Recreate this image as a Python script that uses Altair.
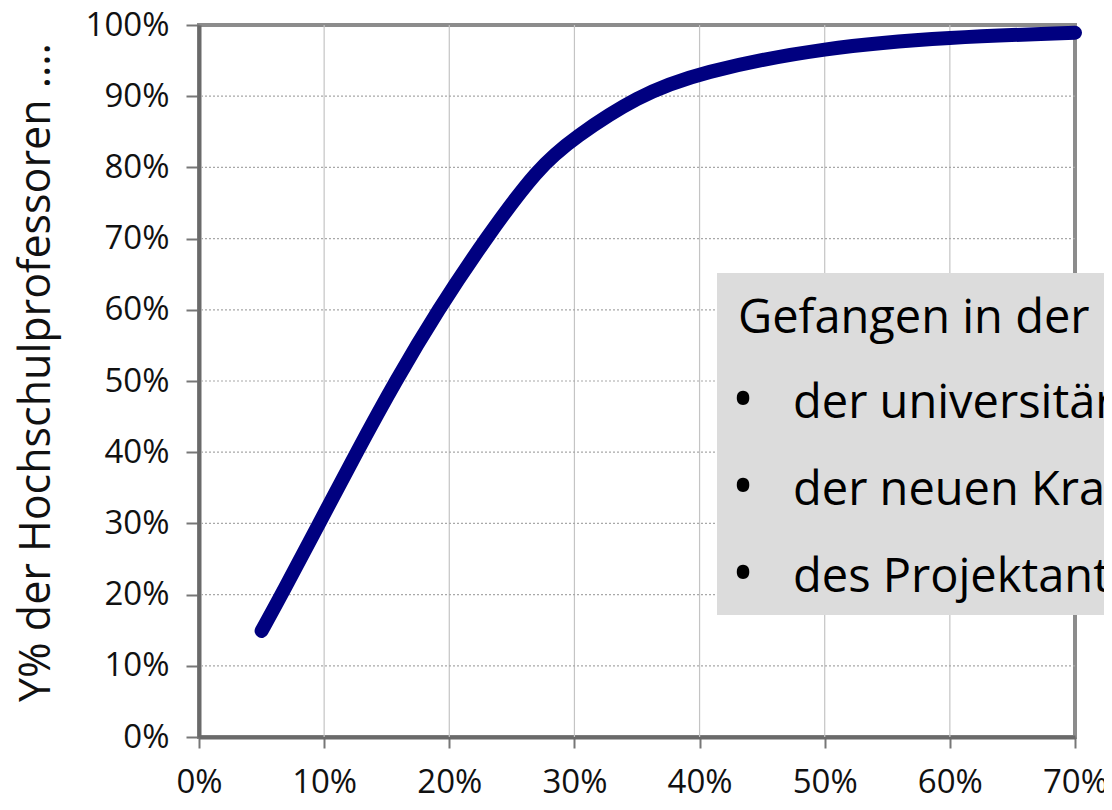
import altair as alt
import pandas as pd

# curve values (percent)
x_share = [5, 6.6, 9.6, 12.6, 15.7, 19.1, 22.9, 27.1, 30, 35, 40, 50, 60, 70]
y_share = [14.9, 20, 30, 40, 50, 60, 70, 80, 84.2, 90, 93.4, 96.9, 98.3, 98.9]

x_ticks = [0, 10, 20, 30, 40, 50, 60, 70]
y_ticks = [0, 10, 20, 30, 40, 50, 60, 70, 80, 90, 100]

y_title = "Y% der Hochschulprofessoren ...."
box_heading = "Gefangen in der "
box_bullets = ["der universitären Selbstverwaltung", "der neuen Kran", "des Projektantrags"]

FONT = "Open Sans"
W, H = 876, 712

df = pd.DataFrame({"x": x_share, "y": y_share})

xscale = alt.Scale(domain=[0, 70], nice=False)
yscale = alt.Scale(domain=[0, 100], nice=False)

x_axis = alt.Axis(values=x_ticks, labelExpr="datum.value + '%'", title=None,
                  grid=False, tickSize=11, labelPadding=44, labelFontSize=33,
                  labelBaseline="alphabetic",
                  labelFont=FONT, labelColor="#111", tickColor="#777",
                  tickWidth=2, domainColor="#6a6a6a", domainWidth=4,
                  labelFlush=False, labelOverlap=False)
y_axis = alt.Axis(values=y_ticks, labelExpr="datum.value + '%'", title=y_title,
                  grid=False, tickSize=13, labelPadding=17, labelFontSize=33,
                  labelFont=FONT, labelColor="#111", tickColor="#777",
                  tickWidth=2, domainColor="#6a6a6a", domainWidth=4,
                  labelOverlap=False,
                  titleFont=FONT, titleFontSize=43, titleFontWeight="normal",
                  titleColor="#111", titlePadding=27, titleY=347)

# vertical solid grid
vgrid = alt.Chart(pd.DataFrame({"x": x_ticks[1:-1]})).mark_rule(
    color="#c4c4c4", strokeWidth=1.2
).encode(x=alt.X("x:Q", scale=xscale, axis=x_axis))

# horizontal dotted grid
hgrid = alt.Chart(pd.DataFrame({"y": y_ticks[1:-1]})).mark_rule(
    color="#a8a8a8", strokeWidth=1.2, strokeDash=[2, 2]
).encode(y=alt.Y("y:Q", scale=yscale, axis=y_axis))

line = alt.Chart(df).mark_line(
    color="#000080", strokeWidth=14, strokeCap="round", strokeJoin="round",
    interpolate="basis"
).encode(
    x=alt.X("x:Q", scale=xscale, axis=x_axis),
    y=alt.Y("y:Q", scale=yscale, axis=y_axis),
)

box = alt.Chart(pd.DataFrame({"k": [0]})).mark_rect(color="#dcdcdc").encode(
    x=alt.value(518), x2=alt.value(930), y=alt.value(248), y2=alt.value(590)
)

heading = alt.Chart(pd.DataFrame({"t": [box_heading]})).mark_text(
    align="left", baseline="alphabetic", font=FONT, fontSize=47, color="#000"
).encode(x=alt.value(539), y=alt.value(308), text="t:N")

bullet_layers = []
for i, txt in enumerate(box_bullets):
    yb = 393 + i * 87
    src = pd.DataFrame({"t": [txt]})
    bullet_layers.append(
        alt.Chart(src).mark_text(
            align="center", baseline="alphabetic", font=FONT, fontSize=60, color="#000"
        ).encode(x=alt.value(544), y=alt.value(yb + 2), text=alt.value("•"))
    )
    bullet_layers.append(
        alt.Chart(src).mark_text(
            align="left", baseline="alphabetic", font=FONT, fontSize=47, color="#000"
        ).encode(x=alt.value(594), y=alt.value(yb), text="t:N")
    )

chart = alt.layer(vgrid, hgrid, line, box, heading, *bullet_layers).properties(
    width=W, height=H,
    autosize=alt.AutoSizeParams(type="none"),
    padding={"left": 191, "top": 17, "right": 29, "bottom": 64},
    background="white",
).configure_view(stroke="#8c8c8c", strokeWidth=4)

chart.save("out.html", embed_options={"renderer": "svg", "actions": False})
